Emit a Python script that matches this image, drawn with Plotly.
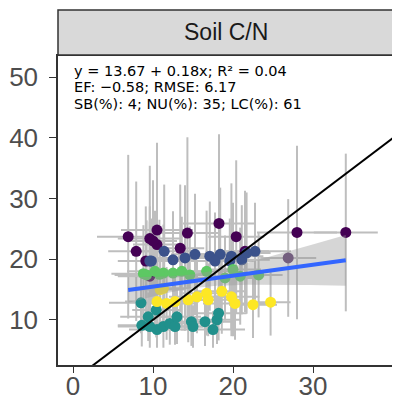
import numpy as np
import plotly.graph_objects as go

# ---- data ----
group_names = ["g1", "g2", "g3", "g4", "g5", "g6"]
group_colors = ["#440154", "#3B528B", "#21908C", "#5DC863", "#FDE725", "#5C3A6E"]

g1_x = [6.9, 7.9, 10.5, 9.6, 10.5, 9.1, 14.3, 13.4, 18.25, 20.4, 21.5, 28.0, 34.1, 10.0, 9.6]
g1_y = [23.7, 21.3, 24.8, 23.4, 22.4, 19.7, 24.3, 21.8, 25.9, 23.7, 21.3, 24.4, 24.4, 23.0, 17.2]
g1_xsd = [3.9, 3.5, 4.5, 4.0, 3.0, 3.5, 4.0, 3.0, 4.5, 3.5, 3.0, 5.0, 4.0, 3.0, 4.0]
g1_ysd = [13.5, 11.5, 14.4, 12.0, 11.0, 9.0, 15.8, 10.5, 14.7, 12.6, 10.0, 14.3, 13.0, 10.0, 9.0]

g2_x = [11.4, 9.6, 12.5, 14.0, 15.25, 17.1, 18.4, 17.75, 19.8, 21.1, 22.75, 21.7, 9.8, 19.6]
g2_y = [21.3, 19.7, 19.9, 20.2, 20.8, 20.5, 20.8, 19.7, 20.5, 19.9, 21.3, 21.0, 19.7, 19.7]
g2_xsd = [4.0, 3.5, 3.0, 4.5, 3.0, 4.0, 5.0, 3.0, 4.0, 3.5, 4.5, 3.0, 4.0, 3.0]
g2_ysd = [11.0, 9.0, 8.0, 12.0, 10.0, 9.0, 11.0, 8.0, 12.0, 9.0, 8.0, 10.0, 7.0, 7.0]

g3_x = [8.5, 10.4, 9.4, 8.6, 9.6, 10.5, 11.3, 12.1, 12.75, 13.0, 14.8, 15.0, 16.5, 17.5, 18.0, 18.2]
g3_y = [12.8, 11.6, 10.5, 9.1, 8.9, 8.4, 8.9, 9.4, 8.9, 10.5, 9.7, 8.9, 9.7, 8.4, 10.0, 11.1]
g3_xsd = [4.0, 3.0, 3.5, 3.0, 4.0, 3.5, 3.0, 4.0, 3.5, 3.0, 4.0, 3.0, 3.5, 4.0, 3.0, 3.5]
g3_ysd = [5.0, 4.5, 4.0, 3.5, 3.5, 3.0, 3.5, 3.5, 3.0, 4.5, 4.0, 3.5, 4.0, 3.0, 4.0, 4.5]

g4_x = [9.2, 10.25, 11.3, 12.5, 13.6, 14.6, 16.7, 20.0, 20.9, 19.0, 23.2, 8.8, 10.8]
g4_y = [17.4, 18.0, 17.7, 17.7, 18.0, 17.4, 18.0, 18.3, 17.2, 16.9, 17.4, 17.6, 17.5]
g4_xsd = [4.0, 3.5, 3.0, 4.0, 3.5, 3.0, 4.0, 3.5, 3.0, 4.0, 3.0, 4.0, 3.0]
g4_ysd = [9.0, 10.0, 8.0, 7.0, 9.0, 8.0, 10.0, 11.0, 8.0, 7.0, 7.0, 8.0, 9.0]

g5_x = [10.5, 10.9, 11.7, 12.75, 14.4, 15.5, 16.7, 16.9, 18.6, 19.8, 20.25, 22.5, 24.7, 11.3]
g5_y = [13.0, 15.0, 12.7, 13.0, 13.3, 13.8, 14.4, 13.3, 14.7, 13.8, 12.7, 12.5, 12.9, 15.2]
g5_xsd = [4.0, 3.0, 3.5, 3.0, 4.0, 3.5, 3.0, 4.0, 3.0, 3.5, 4.0, 3.0, 2.5, 3.5]
g5_ysd = [6.0, 5.5, 6.0, 5.0, 7.0, 6.0, 7.0, 6.0, 7.0, 6.5, 6.0, 5.5, 5.5, 6.0]

g6_x = [26.9]
g6_y = [20.2]
g6_xsd = [3.5]
g6_ysd = [9.7]

groups_x = [g1_x, g2_x, g3_x, g4_x, g5_x, g6_x]
groups_y = [g1_y, g2_y, g3_y, g4_y, g5_y, g6_y]
groups_xsd = [g1_xsd, g2_xsd, g3_xsd, g4_xsd, g5_xsd, g6_xsd]
groups_ysd = [g1_ysd, g2_ysd, g3_ysd, g4_ysd, g5_ysd, g6_ysd]

fit_intercept = 13.67
fit_slope = 0.18
stats_lines = ["y = 13.67 + 0.18x; R² = 0.04",
               "EF: −0.58; RMSE: 6.17",
               "SB(%): 4; NU(%): 35; LC(%): 61"]
x_ticks = [0, 10, 20, 30]
y_ticks = [10, 20, 30, 40, 50]
x_range = [-1.875, 40]
y_range = [2.55, 53.5]
panel_title = "Soil C/N"

fig = go.Figure()

# error bars (beneath points)
all_x = np.concatenate([np.array(v, float) for v in groups_x])
all_y = np.concatenate([np.array(v, float) for v in groups_y])
all_xsd = np.concatenate([np.array(v, float) for v in groups_xsd])
all_ysd = np.concatenate([np.array(v, float) for v in groups_ysd])
fig.add_trace(go.Scatter(
    x=all_x, y=all_y, mode="markers",
    marker=dict(size=1, color="rgba(0,0,0,0)"),
    error_x=dict(type="data", array=all_xsd, width=0, thickness=2, color="#BEBEBE"),
    error_y=dict(type="data", array=all_ysd, width=0, thickness=2, color="#BEBEBE"),
    showlegend=False, hoverinfo="skip"))

# points
for gx, gy, col in zip(groups_x, groups_y, group_colors):
    fig.add_trace(go.Scatter(x=gx, y=gy, mode="markers",
                             marker=dict(size=11, color=col, line=dict(width=0)),
                             showlegend=False))

# regression line + confidence band
xs = np.linspace(all_x.min(), all_x.max(), 80)
pred = fit_intercept + fit_slope * xs
resid = all_y - (fit_intercept + fit_slope * all_x)
n = len(all_x)
s = np.sqrt(np.sum(resid ** 2) / (n - 2))
sxx = np.sum((all_x - all_x.mean()) ** 2)
se = s * np.sqrt(1.0 / n + (xs - all_x.mean()) ** 2 / sxx)
half = 1.995 * se
fig.add_trace(go.Scatter(x=xs, y=pred - half, mode="lines", line=dict(width=0),
                         showlegend=False, hoverinfo="skip"))
fig.add_trace(go.Scatter(x=xs, y=pred + half, mode="lines", line=dict(width=0),
                         fill="tonexty", fillcolor="rgba(153,153,153,0.4)",
                         showlegend=False, hoverinfo="skip"))
fig.add_trace(go.Scatter(x=xs, y=pred, mode="lines",
                         line=dict(color="#3366FF", width=4), showlegend=False))

# 1:1 line
fig.add_trace(go.Scatter(x=[x_range[0], x_range[1] + 5], y=[x_range[0], x_range[1] + 5],
                         mode="lines", line=dict(color="black", width=2), showlegend=False))

# page body has an 8px default margin, so the figure is sized to fit the window
ml, mr, mt, mb = 50, 7, 48, 36
W, H = 392, 393
pw = W - ml - mr
ph = H - mt - mb
strip_h = 45

axis_common = dict(showgrid=False, zeroline=False, automargin=False,
                   showline=True, mirror=True, linecolor="#333333", linewidth=1.5,
                   ticks="outside", tickwidth=1.3, tickcolor="#333333",
                   tickfont=dict(size=26, color="#4D4D4D",
                                 family="Liberation Sans, Arial, sans-serif"))

annotations = [
    dict(text=panel_title, xref="paper", yref="paper", x=0.5,
         y=1 + (strip_h / 2 + 1) / ph, xanchor="center", yanchor="middle",
         showarrow=False, font=dict(size=23, color="#1A1A1A",
                                    family="Liberation Sans, Arial, sans-serif")),
]
for i, line in enumerate(stats_lines):
    annotations.append(dict(
        text=line, xref="paper", yref="paper",
        x=14 / pw, y=1 - (15 + 16.3 * i) / ph, xanchor="left", yanchor="middle",
        align="left", showarrow=False,
        font=dict(size=14.5, color="black", family="DejaVu Sans, sans-serif")))

fig.update_layout(
    width=W, height=H,
    margin=dict(l=ml, r=mr, t=mt, b=mb, autoexpand=False),
    paper_bgcolor="white", plot_bgcolor="white",
    font=dict(family="Liberation Sans, Arial, sans-serif"),
    xaxis=dict(range=x_range, tickvals=x_ticks, ticklen=6, ticklabelstandoff=-9,
               **axis_common),
    yaxis=dict(range=y_range, tickvals=y_ticks, ticklen=7, ticklabelstandoff=6,
               **axis_common),
    shapes=[dict(type="rect", xref="paper", yref="paper", x0=0, x1=1,
                 y0=1 + 1 / ph, y1=1 + (strip_h + 1) / ph,
                 fillcolor="#D9D9D9", line=dict(color="#333333", width=1.5))],
    annotations=annotations,
)

fig.write_html("out.html")
